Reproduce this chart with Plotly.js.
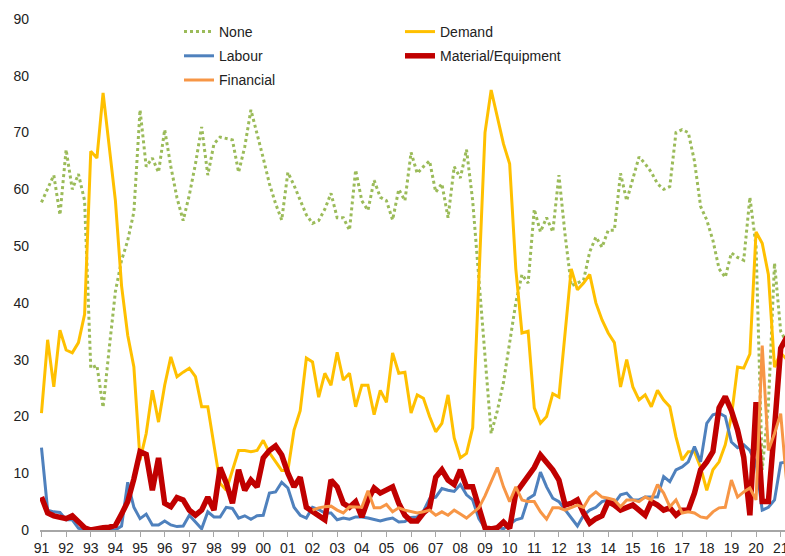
<!DOCTYPE html>
<html>
<head>
<meta charset="utf-8">
<script src="https://cdn.plot.ly/plotly-3.0.1.min.js"></script>
<style>html,body{margin:0;padding:0;background:#fff;}#chart{width:785px;height:556px;}</style>
</head>
<body>
<div id="chart"></div>
<script>
// Quarterly categories 1991Q1 .. 2021Q2
var quarters = [];
for (var y = 1991; y <= 2021; y++) { for (var q = 1; q <= 4; q++) { quarters.push(y + 'Q' + q); } }
quarters = quarters.slice(0, 122);

var yearTicks = ['1991Q1','1992Q1','1993Q1','1994Q1','1995Q1','1996Q1','1997Q1','1998Q1','1999Q1','2000Q1','2001Q1','2002Q1','2003Q1','2004Q1','2005Q1','2006Q1','2007Q1','2008Q1','2009Q1','2010Q1','2011Q1','2012Q1','2013Q1','2014Q1','2015Q1','2016Q1','2017Q1','2018Q1','2019Q1','2020Q1','2021Q1'];
var yearLabels = ['91','92','93','94','95','96','97','98','99','00','01','02','03','04','05','06','07','08','09','10','11','12','13','14','15','16','17','18','19','20','21'];

var noneVals = [57.7,60,62.5,55.5,67,60,62.7,58,28.5,29,21.6,32,42,47.5,51,56,74,64,65.5,63,70.5,64,58.5,54.5,59,64.5,71,62.5,68,69.2,69,68.7,63,67.5,74,70,65.5,61,57.5,54.6,63,60.7,58,55.5,54,54.5,56.5,59.3,55,55,52.8,63.4,58,56.3,61.6,58.6,58,54.6,60,58,66.5,62.8,64,65,59.5,61,55,64,62,67,58,44,30,17,21,26,33,40,45,43.5,56.5,52.5,55,52.5,62.5,52,43,43.5,44,49,51.6,49.8,52.8,52.8,62.8,58,62,65.7,64.5,63,61,60,60.5,70,70.5,70,65,57,54.6,51,46,44.5,48.8,48,47.5,58.6,50,10.6,22,47,35,33];

var demandVals = [20.6,33.5,25.2,35.2,31.7,31.2,33,38,66.7,65.5,77,68,58,43,34.3,28.7,12.3,17,24.6,19,25.5,30.5,27,27.8,28.5,27,21.7,21.7,15,8.2,7,10.5,14,14,13.8,14,15.8,13.6,12,10.5,10.5,17.6,21,30.3,29.6,23.4,27.6,25.5,31.3,26.4,27.6,21.7,25.5,25.5,20.3,24.6,22.5,31.2,27.6,27.8,20.6,23.8,23.2,20,17.3,18.8,23.8,16.2,12.7,13.5,18,44,70,77.5,72.5,68,64.5,46,34.7,35,21.5,18.8,20,24,23.4,35,46,42.3,43.5,45,40,37,34.7,33,25.2,30,25.2,22.9,23.8,21.7,24.6,22.9,21.7,16.4,12.3,13.8,13.8,11,7,10.6,12,15,20,28.7,28.5,31,52.5,50.5,45,28.7,31.2,30];

var labourVals = [14.5,3.5,3.2,3.1,1.8,1.8,0.3,0,0,0,0,0,0,0.7,8.4,4,2,2.8,0.9,0.9,1.6,0.9,0.6,0.7,2.6,1.4,0.2,3.2,2.3,2.3,4,3.8,2.1,2.5,1.9,2.5,2.6,6.5,6.7,8.4,7.4,4,2.6,2.1,4,3.6,3,3,1.8,2.1,1.9,2.3,2.3,2.1,1.9,1.6,1.9,2.1,1.4,1.5,2.2,2.3,3.3,5.5,5.8,7.3,7,6.8,8,6.2,5.3,2,0.3,0.3,0.5,0.2,1,1.8,2.1,5.5,6.2,10.2,7.6,5.6,5,3.5,2.1,0.7,2.6,3.5,4,5,5.3,4.7,6.2,6.5,5.3,5.3,5.8,5.8,5.8,9.4,8.5,10.6,11.1,12,14.7,12,18.8,20.3,20.6,20,15.5,14.5,15,14,11.8,3.5,4,5.3,11.8,12];

var materialVals = [5.8,3,2.5,2.3,2,2.5,1.4,0.4,0,0.3,0.4,0.5,0.8,2.8,5,9,13.8,13.3,7,12.7,4.7,4.1,5.7,5.3,3.5,2.6,3.5,5.8,3.5,11,8.3,4.7,10.6,7,8.8,7.6,12.7,14,14.8,13.2,10,7.6,9.3,4,3.2,2.6,1.8,8.8,7.6,4.7,4,5,2.3,5.3,7.4,6.5,7,7.6,4.7,2.6,1.6,1.6,3,3.9,9.3,10.6,8.8,8,10.6,7.6,7.6,4,0.4,0.2,0.4,1.4,0.3,6.5,8,9.5,11,13.2,12,10.6,8.8,4.4,4.7,5.3,3,1.2,2,2.5,5,4.4,3.5,3.9,4.4,3.5,2.6,5,4.4,3.5,3.9,2.6,3.5,3.5,6.5,10.6,12,13.8,21.5,23.5,21,17.6,12.8,2.6,22.5,5,5,18,32,34];

var financialVals = [null,null,null,null,null,null,null,null,null,null,null,null,null,null,null,null,null,null,null,null,null,null,null,null,null,null,null,null,null,null,null,null,null,null,null,null,null,null,null,null,null,null,null,null,3.5,3.9,4.1,4.2,3.5,3,4.1,4,4,6.9,3.9,3.9,4.5,3.2,3.9,3.5,3.2,3,3.2,3.5,2.6,3.2,2.6,3.5,2.8,2.1,3,3.9,6,8.5,11,7.6,5,7.6,5.3,5,5,3.2,1.9,3.9,3.9,3.5,4,4.4,4,5.8,6.7,5.8,5.6,5.3,4.1,5.3,5.3,5,5.8,5.3,8,6.5,4.1,5.3,3,3.2,3,2.3,2.1,3.2,3.9,4,8.8,5.8,6.7,7.4,5.3,32.5,14,17,20.5,8];

var traces = [
  {name:'None', y:noneVals, legend:'legend', legendgroup:'a', line:{color:'#9BBB59', width:3, dash:'dot'}},
  {name:'Demand', y:demandVals, legend:'legend2', legendgroup:'b', line:{color:'#FFC000', width:3}},
  {name:'Labour', y:labourVals, legend:'legend', legendgroup:'c', line:{color:'#4F81BD', width:3}},
  {name:'Material/Equipment', y:materialVals, legend:'legend2', legendgroup:'d', line:{color:'#C00000', width:5.5}},
  {name:'Financial', y:financialVals, legend:'legend', legendgroup:'e', line:{color:'#F79646', width:3}}
].map(function(t){ t.x = quarters; t.type='scatter'; t.mode='lines'; t.hoverinfo='skip'; return t; });

var legendFont = {family:'Liberation Sans, Arial, sans-serif', size:14, color:'#222'};
var legTop = (530 - 16) / 511;
var layout = {
  width:785, height:556,
  margin:{l:40, r:0, t:19, b:26},
  paper_bgcolor:'#fff', plot_bgcolor:'#fff',
  font:{family:'Liberation Sans, Arial, sans-serif', size:14, color:'#222'},
  showlegend:true,
  legend:{x:(179-40)/745, y:legTop, xanchor:'left', yanchor:'top', bgcolor:'rgba(0,0,0,0)', font:legendFont, tracegroupgap:3, itemwidth:30},
  legend2:{x:(400-40)/745, y:legTop, xanchor:'left', yanchor:'top', bgcolor:'rgba(0,0,0,0)', font:legendFont, tracegroupgap:3, itemwidth:30},
  xaxis:{type:'category', categoryorder:'array', categoryarray:quarters, range:[-0.24, 120.7],
    tickmode:'array', tickvals:yearTicks, ticktext:yearLabels, ticks:'outside', ticklen:5, tickcolor:'#a6a6a6', tickwidth:1,
    showline:true, linecolor:'#a6a6a6', linewidth:1.5, showgrid:false, zeroline:false, automargin:false,
    tickfont:{size:14, color:'#222'}, fixedrange:true},
  yaxis:{range:[0,90], dtick:10, showgrid:false, zeroline:false, showline:false, ticks:'', ticklabelstandoff:10, automargin:false,
    tickfont:{size:14, color:'#222'}, fixedrange:true}
};

Plotly.newPlot('chart', traces, layout, {staticPlot:true, displayModeBar:false});
</script>
</body>
</html>
